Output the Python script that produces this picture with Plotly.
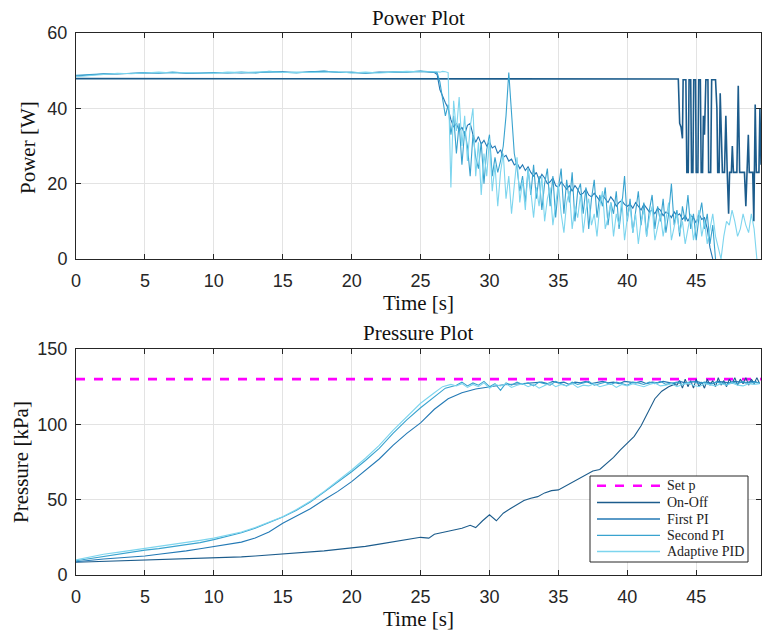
import plotly.graph_objects as go

# ---------------- DATA ----------------
legend_names = ["Set p", "On-Off", "First PI", "Second PI", "Adaptive PID"]
colors = {"Set p": "#ff00ff", "On-Off": "#1c5c8c", "First PI": "#2379b5",
          "Second PI": "#39a3cf", "Adaptive PID": "#7dd5ee"}

x_ticks = [0, 5, 10, 15, 20, 25, 30, 35, 40, 45]
power_ticks = [0, 20, 40, 60]
pressure_ticks = [0, 50, 100, 150]
setpoint_kpa = 130

# --- Power [W] ---
early_t = [0, 1, 2, 3, 4, 5, 6, 7, 8, 9, 10, 11, 12, 13, 14, 15, 16, 17, 18, 19, 20, 21, 22, 23, 24, 25]
pow_first_early = [48.6, 48.9, 49.1, 49.2, 49.3, 49.4, 49.4, 49.5, 49.3, 49.4, 49.4, 49.5, 49.4,
                   49.5, 49.6, 49.7, 49.5, 49.6, 49.8, 49.6, 49.5, 49.4, 49.6, 49.5, 49.7, 49.8]
pow_second_early = [48.8, 49.0, 49.2, 49.1, 49.3, 49.5, 49.3, 49.6, 49.4, 49.3, 49.5, 49.4, 49.6,
                    49.4, 49.8, 49.6, 49.4, 49.7, 49.9, 49.5, 49.6, 49.3, 49.5, 49.7, 49.6, 49.9]
pow_adapt_early = [48.4, 48.8, 49.0, 49.3, 49.2, 49.4, 49.6, 49.4, 49.5, 49.4, 49.3, 49.6, 49.5,
                   49.6, 49.7, 49.5, 49.6, 49.5, 49.7, 49.7, 49.4, 49.6, 49.4, 49.6, 49.8, 49.7]

# samples every 0.2 s starting at 26.0 s
pow_first_late = [49.5, 49.0, 45, 43, 41.5, 40, 37, 35, 36, 34,
                  35, 33, 35.5, 36, 33, 31, 32.5, 30.5, 31.5, 30,
                  31, 29.5, 30, 28, 29, 27, 27.5, 26, 26.5, 25,
                  25.5, 24, 25, 23.5, 24.5, 23, 22, 23, 21, 22.5,
                  21.5, 20, 20.5, 21.5, 19.5, 19, 20.5, 19.5, 18.5, 19.5,
                  18, 19.5, 18.5, 17, 17.5, 18.5, 17, 16.5, 17.5, 16.5,
                  15.5, 17, 16, 15, 16.5, 15.5, 14, 15, 15.5, 14.5,
                  14, 14.5, 13.5, 15, 14, 13, 14.5, 13.5, 12.5, 13,
                  12, 13.5, 13, 11.5, 12.5, 12, 11, 12.5, 11.5, 12,
                  10.5, 11.5, 10, 11.5, 11, 9.5, 12, 10.5, 11, 8,
                  3, 0]
pow_second_late = [49.6, 49.5, 47, 42, 38, 41, 33, 38, 28, 36,
                   25, 34, 30, 22, 33, 27, 24, 31, 20, 29,
                   33, 22, 27, 23, 26, 30, 38, 49.5, 38, 28,
                   24, 18, 22, 15, 24, 17, 25, 16, 22, 13,
                   20, 24, 14, 22, 11, 19, 24, 12, 21, 15,
                   23, 10, 18, 20, 12, 19, 8, 16, 21, 11,
                   17, 14, 19, 9, 15, 12, 18, 8, 14, 22,
                   10, 16, 7, 13, 18, 9, 15, 6, 13, 17,
                   8, 14, 10, 16, 7, 12, 20, 9, 13, 6,
                   14, 10, 17, 8, 12, 5, 11, 15, 8, 12,
                   4, 9, 0]
pow_adapt_late = [49.8, 49.7, 49.6, 49.8, 49.7, 49.5, 19, 42, 34, 43,
                  30, 38, 26, 35, 40, 22, 31, 17, 28, 22,
                  32, 18, 25, 14, 23, 28, 16, 22, 12, 20,
                  27, 15, 21, 13, 24, 18, 11, 19, 14, 22,
                  10, 16, 19, 9, 15, 20, 12, 7, 15, 18,
                  8, 14, 11, 17, 7, 13, 16, 9, 12, 6,
                  14, 18, 8, 11, 15, 6, 12, 9, 16, 5,
                  11, 14, 7, 12, 4, 10, 13, 6, 11, 14,
                  5, 9, 12, 6, 10, 15, 5, 9, 12, 7,
                  10, 4, 8, 12, 5, 9, 13, 6, 10, 4,
                  8, 12, 6, 3, 0, 6, 10, 9, 13, 10,
                  6, 8, 12, 9, 7, 12, 8, 0]

pow_onoff_t = [0, 10, 20, 30, 40, 43.7,
               43.8, 43.9, 44.0, 44.05, 44.25, 44.32, 44.42, 44.48, 44.6, 44.66, 44.76, 44.82,
               44.95, 45.0, 45.12, 45.18, 45.3, 45.36, 45.46, 45.52, 45.6, 45.7, 45.85, 45.9,
               46.05, 46.12, 46.4, 46.5, 46.56, 46.66, 46.74, 46.82, 46.9, 47.05, 47.15, 47.25,
               47.35, 47.42, 47.55, 47.62, 47.7, 47.95, 48.05, 48.15, 48.5, 48.6, 48.7, 48.78,
               48.85, 49.1, 49.18, 49.28, 49.36, 49.55, 49.62, 49.7]
pow_onoff = [47.9, 47.9, 47.8, 47.9, 47.8, 47.8,
             36, 35, 32, 47.6, 47.6, 23, 23, 47.6, 47.6, 23, 23, 47.6,
             47.6, 23, 23, 47.6, 47.6, 23, 23, 38, 33, 47.6, 47.6, 23,
             23, 47.6, 47.6, 40, 23, 23, 44, 30, 23, 23, 38, 23,
             12, 23, 23, 30, 23, 23, 46, 23, 23, 14, 23, 33,
             23, 23, 10, 41, 23, 23, 40, 25]

# --- Pressure [kPa] ---
prs_onoff_t = [0, 1, 2, 3, 4, 5, 6, 7, 8, 9, 10, 11, 12, 13, 14, 15, 16, 17, 18, 19, 20, 21, 22,
               23, 24, 25, 25.6, 26, 27, 28, 28.6, 29.0, 29.5, 30.0, 30.5, 31, 31.5, 32, 32.5, 33,
               33.5, 34, 34.5, 35, 35.5, 36, 36.5, 37, 37.5, 38, 38.5, 39, 39.5, 40, 40.5, 41,
               41.5, 42, 42.5, 43, 43.4]
prs_onoff = [8.5, 8.8, 9.0, 9.0, 9.3, 9.5, 9.8, 10.2, 10.5, 10.8, 11.0, 11.5, 12.0, 12.6, 13.2,
             13.8, 14.3, 15.0, 16.0, 17.0, 17.8, 19.0, 20.5, 22.0, 24.0, 25.0, 24.5, 27, 29, 31,
             33, 31.5, 36, 40, 36, 41, 44, 47, 49.5, 51, 52, 54.5, 56, 56.5, 59, 61.5, 64, 66.5,
             69, 70, 74, 78, 83, 87.5, 92, 99, 108, 117, 122, 125, 126.5]
# on-off oscillation, every 0.2 s from 43.6 s
prs_onoff_osc = [126, 129, 124, 130, 125, 129, 124, 130, 125, 128, 124, 130, 126, 129, 125, 131,
                 126, 129, 125, 130, 127, 131, 126, 130, 127, 131, 126, 130, 127, 131, 127]

prs_first_t = [0, 1, 2, 3, 4, 5, 6, 7, 8, 9, 10, 11, 12, 13, 14, 15, 16, 17, 18, 19, 20, 21, 22,
               23, 24, 25, 26, 27, 28, 29, 30, 31, 32, 33]
prs_first = [8.8, 9.8, 10.6, 11.3, 12.0, 12.6, 13.8, 14.8, 16.0, 17.4, 18.8, 20.2, 21.8, 24.5,
             28.5, 34.3, 39, 44, 50, 55.5, 62, 69.5, 77, 86, 94, 101, 110, 117, 121, 123.5, 125,
             126.3, 126.8, 127.3]
# plateau, every 0.4 s from 33.4 s
prs_first_plateau = [127.5, 128, 127, 128.5, 127.5, 128, 126.5, 128, 127.5, 128.5, 127, 128,
                     128.5, 127.5, 128, 127, 128.5, 128, 127.5, 128.5, 127, 128, 127.5, 128.5,
                     128, 127, 128.5, 127.5, 128, 128.5, 127.5, 128, 127, 128.5, 128, 127.5,
                     128.5, 128, 127.5, 128.5, 128]

prs_second_t = [0, 1, 2, 3, 4, 5, 6, 7, 8, 9, 10, 11, 12, 13, 14, 15, 16, 17, 18, 19, 20, 21,
                22, 23, 24, 25, 26, 26.8]
prs_second = [9.5, 11, 12.5, 13.8, 15, 16.5, 17.5, 18.8, 20, 21.5, 23.5, 25.5, 28, 31, 34.5,
              38.5, 43, 48.5, 55, 61.5, 68.5, 76, 84, 94, 103, 111, 118, 124]
# plateau, every 0.4 s from 27.6 s
prs_second_plateau = [126, 128, 125.5, 127.5, 126, 128.5, 125, 127, 122.5, 127.5, 126, 128,
                      126.5, 127.5, 125.5, 128, 127, 126, 128.5, 127, 125.5, 128, 126.5, 127.5,
                      128.5, 126, 127, 128, 126.5, 128, 127, 126, 128, 127.5, 126.5, 128, 127,
                      128.5, 126.5, 127.5, 128, 126.5, 127.5, 128.5, 127, 128, 126.5, 128, 127.5,
                      126.5, 128, 127, 128.5, 127, 128, 127.5]

prs_adapt_t = [0, 1, 2, 3, 4, 5, 6, 7, 8, 9, 10, 11, 12, 13, 14, 15, 16, 17, 18, 19, 20, 21, 22,
               23, 24, 25, 26, 26.6, 27.2]
prs_adapt = [10, 12, 13.8, 15, 16.5, 18, 19, 20.3, 21.5, 23, 24.5, 26.3, 28.5, 31.5, 35, 38.7,
             43.5, 49, 55.5, 62.5, 69.7, 77.5, 86, 96, 105, 114, 121, 125, 126.5]
# plateau, every 0.4 s from 27.6 s
prs_adapt_plateau = [125.5, 127, 124.5, 126.5, 125, 127.5, 124, 126.5, 125.5, 127, 124.5, 126,
                     127, 125, 126.5, 124, 126, 127.5, 125, 126.5, 125.5, 127, 124.5, 126, 125.5,
                     127, 125, 126, 127, 124.5, 126.5, 125.5, 127, 126, 125, 126.5, 127.5, 125.5,
                     126, 127, 125, 126.5, 127.5, 126, 125, 127, 126.5, 125.5, 127, 126, 127.5,
                     126, 125.5, 127, 126.5, 127]

X_MAX = 49.7


def sample_times(start, step, n):
    return [round(start + step * i, 3) for i in range(n)]


# ---------------- LAYOUT GEOMETRY ----------------
W, H = 763, 634
L, R, T, B = 76, 2, 33, 59
ph = H - T - B


def py(pix):
    return (H - B - pix) / ph


def px(pix):
    return (pix - L) / (W - L - R)


fig = go.Figure()

# power traces (top)
fig.add_trace(go.Scatter(x=pow_onoff_t, y=pow_onoff, mode="lines", name="On-Off",
                         line=dict(color=colors["On-Off"], width=1.6), showlegend=False,
                         xaxis="x", yaxis="y"))
fig.add_trace(go.Scatter(x=early_t + sample_times(26.0, 0.2, len(pow_first_late)),
                         y=pow_first_early + pow_first_late, mode="lines", name="First PI",
                         line=dict(color=colors["First PI"], width=1.1), showlegend=False,
                         xaxis="x", yaxis="y"))
fig.add_trace(go.Scatter(x=early_t + sample_times(26.0, 0.2, len(pow_second_late)),
                         y=pow_second_early + pow_second_late, mode="lines", name="Second PI",
                         line=dict(color=colors["Second PI"], width=1.1), showlegend=False,
                         xaxis="x", yaxis="y"))
fig.add_trace(go.Scatter(x=early_t + sample_times(26.0, 0.2, len(pow_adapt_late)),
                         y=pow_adapt_early + pow_adapt_late, mode="lines", name="Adaptive PID",
                         line=dict(color=colors["Adaptive PID"], width=1.1), showlegend=False,
                         xaxis="x", yaxis="y"))

# pressure traces (bottom)
fig.add_trace(go.Scatter(x=[0, X_MAX], y=[setpoint_kpa, setpoint_kpa], mode="lines", name="Set p",
                         line=dict(color=colors["Set p"], width=2.6, dash="dash"),
                         showlegend=False, xaxis="x2", yaxis="y2"))
fig.add_trace(go.Scatter(x=prs_onoff_t + sample_times(43.6, 0.2, len(prs_onoff_osc)),
                         y=prs_onoff + prs_onoff_osc, mode="lines", name="On-Off",
                         line=dict(color=colors["On-Off"], width=1.1), showlegend=False,
                         xaxis="x2", yaxis="y2"))
fig.add_trace(go.Scatter(x=prs_first_t + sample_times(33.4, 0.4, len(prs_first_plateau)),
                         y=prs_first + prs_first_plateau, mode="lines", name="First PI",
                         line=dict(color=colors["First PI"], width=1.1), showlegend=False,
                         xaxis="x2", yaxis="y2"))
fig.add_trace(go.Scatter(x=prs_second_t + sample_times(27.6, 0.4, len(prs_second_plateau)),
                         y=prs_second + prs_second_plateau, mode="lines", name="Second PI",
                         line=dict(color=colors["Second PI"], width=1.1), showlegend=False,
                         xaxis="x2", yaxis="y2"))
fig.add_trace(go.Scatter(x=prs_adapt_t + sample_times(27.6, 0.4, len(prs_adapt_plateau)),
                         y=prs_adapt + prs_adapt_plateau, mode="lines", name="Adaptive PID",
                         line=dict(color=colors["Adaptive PID"], width=1.1), showlegend=False,
                         xaxis="x2", yaxis="y2"))

axis_col = "#262626"
grid_col = "#e3e3e3"
tick_font = dict(family="Liberation Sans, Arial, sans-serif", size=18, color=axis_col)
serif = "Liberation Serif, Times New Roman, serif"

common_x = dict(range=[0, X_MAX], tickvals=x_ticks, showgrid=True, gridcolor=grid_col,
                gridwidth=1, showline=True, linecolor=axis_col, linewidth=1, mirror="ticks",
                ticks="inside", ticklen=5, tickcolor=axis_col, tickfont=tick_font,
                zeroline=False, ticklabelstandoff=5)
common_y = dict(showgrid=True, gridcolor=grid_col, gridwidth=1, showline=True,
                linecolor=axis_col, linewidth=1, mirror="ticks", ticks="inside", ticklen=5,
                tickcolor=axis_col, tickfont=tick_font, zeroline=False, ticklabelstandoff=4)

top_dom = [py(259), 1.0]
bot_dom = [0.0, py(349)]

fig.update_layout(
    width=W, height=H,
    margin=dict(l=L, r=R, t=T, b=B),
    paper_bgcolor="white", plot_bgcolor="white",
    xaxis=dict(common_x, domain=[0, 1], anchor="y"),
    yaxis=dict(common_y, domain=top_dom, range=[0, 60], tickvals=power_ticks, anchor="x"),
    xaxis2=dict(common_x, domain=[0, 1], anchor="y2"),
    yaxis2=dict(common_y, domain=bot_dom, range=[0, 150], tickvals=pressure_ticks, anchor="x2"),
    showlegend=False,
)

ann_font = dict(family=serif, size=21, color="#111111")
annotations = [
    dict(text="Power Plot", x=px(418), y=py(18)),
    dict(text="Pressure Plot", x=px(418), y=py(333)),
    dict(text="Time [s]", x=px(418), y=py(303)),
    dict(text="Time [s]", x=px(418), y=py(619)),
]
for a in annotations:
    fig.add_annotation(xref="paper", yref="paper", xanchor="center", yanchor="middle",
                       showarrow=False, font=ann_font, **a)
fig.add_annotation(text="Power [W]", xref="paper", yref="paper", x=px(28), y=py(147),
                   xanchor="center", yanchor="middle", textangle=-90, showarrow=False,
                   font=ann_font)
fig.add_annotation(text="Pressure [kPa]", xref="paper", yref="paper", x=px(21), y=py(462),
                   xanchor="center", yanchor="middle", textangle=-90, showarrow=False,
                   font=ann_font)

# ---- legend box (drawn inside the pressure axes, MATLAB style) ----
fig.add_shape(type="rect", xref="paper", yref="paper", x0=px(590), x1=px(748),
              y0=py(562), y1=py(476), fillcolor="white",
              line=dict(color=axis_col, width=1), layer="above")
row_y = [485.7, 502.5, 519, 535.3, 551.5]
for name, ry in zip(legend_names, row_y):
    is_set = name == "Set p"
    fig.add_shape(type="line", xref="paper", yref="paper", x0=px(597), x1=px(660),
                  y0=py(ry), y1=py(ry), layer="above",
                  line=dict(color=colors[name], width=2.6 if is_set else 1.3,
                            dash="dash" if is_set else "solid"))
    fig.add_annotation(text=name, xref="paper", yref="paper", x=px(665), y=py(ry),
                       xanchor="left", yanchor="middle", showarrow=False,
                       font=dict(family=serif, size=14, color="#222222"))

fig.write_html("out.html")
